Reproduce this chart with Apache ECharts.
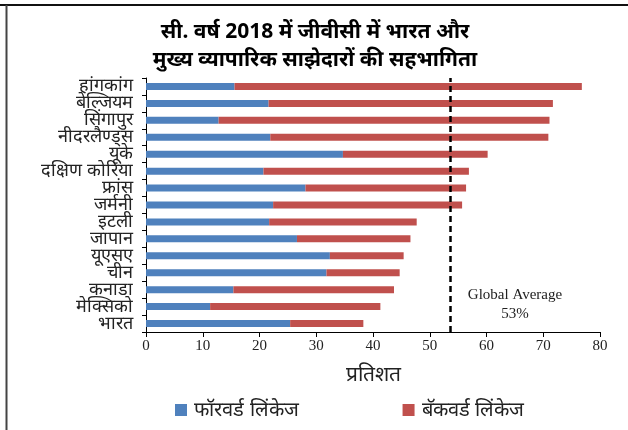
<!DOCTYPE html>
<html>
<head>
<meta charset="utf-8">
<script src="https://cdn.jsdelivr.net/npm/echarts@6/dist/echarts.min.js"></script>
<style>html,body{margin:0;padding:0;background:#fff}#c{width:628px;height:430px}</style>
</head>
<body>
<div id="c"></div>
<script>
const categories = ["हांगकांग","बेल्जियम","सिंगापुर","नीदरलैण्ड्स","यूके","दक्षिण कोरिया","फ्रांस","जर्मनी","इटली","जापान","यूएसए","चीन","कनाडा","मेक्सिको","भारत"];
const forwardLinkage = [15.6, 21.6, 12.8, 21.9, 34.7, 20.7, 28.1, 22.4, 21.7, 26.6, 32.4, 31.8, 15.4, 11.3, 25.4];
const backwardLinkage = [61.2, 50.1, 58.3, 49.0, 25.5, 36.2, 28.3, 33.3, 26.0, 20.0, 13.0, 12.9, 28.3, 30.0, 12.9];
const globalAverage = 53.6;
const xTicks = [0, 80, 10];

const chart = echarts.init(document.getElementById('c'), null, {renderer: 'canvas'});
const serif = '"Liberation Serif", "DejaVu Serif", serif';
chart.setOption({
  animation: false,
  backgroundColor: '#fff',
  title: {
    text: 'सी. वर्ष 2018 में जीवीसी में भारत और\nमुख्य व्यापारिक साझेदारों की सहभागिता',
    left: 310, textAlign: 'center', top: 13,
    textStyle: {fontSize: 21, fontWeight: 'bold', color: '#000', lineHeight: 28, fontFamily: '"Noto Sans", "DejaVu Sans", sans-serif'}
  },
  legend: {
    left: 170, top: 395, itemWidth: 12, itemHeight: 12, itemGap: 104,
    icon: 'rect',
    textStyle: {fontSize: 20, color: '#222', padding: [0,0,0,2]},
    data: ['फॉरवर्ड लिंकेज', 'बॅकवर्ड लिंकेज']
  },
  grid: {left: 146, right: 28, top: 78, bottom: 98, containLabel: false},
  xAxis: {
    type: 'value', min: xTicks[0], max: xTicks[1], interval: xTicks[2],
    name: 'प्रतिशत', nameLocation: 'middle', nameGap: 33,
    nameTextStyle: {fontSize: 21, color: '#222'},
    axisLine: {show: true, lineStyle: {color: '#000', width: 1}},
    axisTick: {show: true, length: 5, lineStyle: {color: '#000'}},
    axisLabel: {fontSize: 15, color: '#222', fontFamily: serif, margin: 7},
    splitLine: {show: false}
  },
  yAxis: [{
    type: 'category', data: categories, inverse: true,
    axisLine: {show: true, lineStyle: {color: '#000', width: 1}},
    axisTick: {show: true, length: 4, lineStyle: {color: '#000'}},
    axisLabel: {fontSize: 18, color: '#222', margin: 13, interval: 0, hideOverlap: false}
  }, {
    type: 'value', min: 0, max: 1, show: false
  }],
  series: [
    {
      name: 'फॉरवर्ड लिंकेज', type: 'bar', stack: 'a', data: forwardLinkage,
      barWidth: 7, itemStyle: {color: '#4F81BD'}
    },
    {
      name: 'बॅकवर्ड लिंकेज', type: 'bar', stack: 'a', data: backwardLinkage,
      barWidth: 7, itemStyle: {color: '#C0504D'}
    },
    {
      name: 'avg', type: 'scatter', yAxisIndex: 1, data: [[globalAverage, 0.5]],
      symbolSize: 0, silent: true, itemStyle: {opacity: 0},
      markLine: {
        silent: true, symbol: 'none', animation: false,
        lineStyle: {color: '#000', type: [6, 4], width: 2.5},
        label: {show: false},
        data: [[{coord: [globalAverage, 0]}, {coord: [globalAverage, 1]}]]
      }
    }
  ],
  graphic: [
    {type: 'line', shape: {x1: 0, y1: 5, x2: 628, y2: 5}, style: {stroke: '#111', lineWidth: 2}},
    {type: 'line', shape: {x1: 6.5, y1: 5, x2: 6.5, y2: 430}, style: {stroke: '#444', lineWidth: 2}},
    {type: 'text', x: 515, y: 286, style: {text: 'Global Average\n53%', align: 'center', verticalAlign: 'top', fill: '#222', fontSize: 15, fontFamily: serif, lineHeight: 19}}
  ]
});
</script>
</body>
</html>
